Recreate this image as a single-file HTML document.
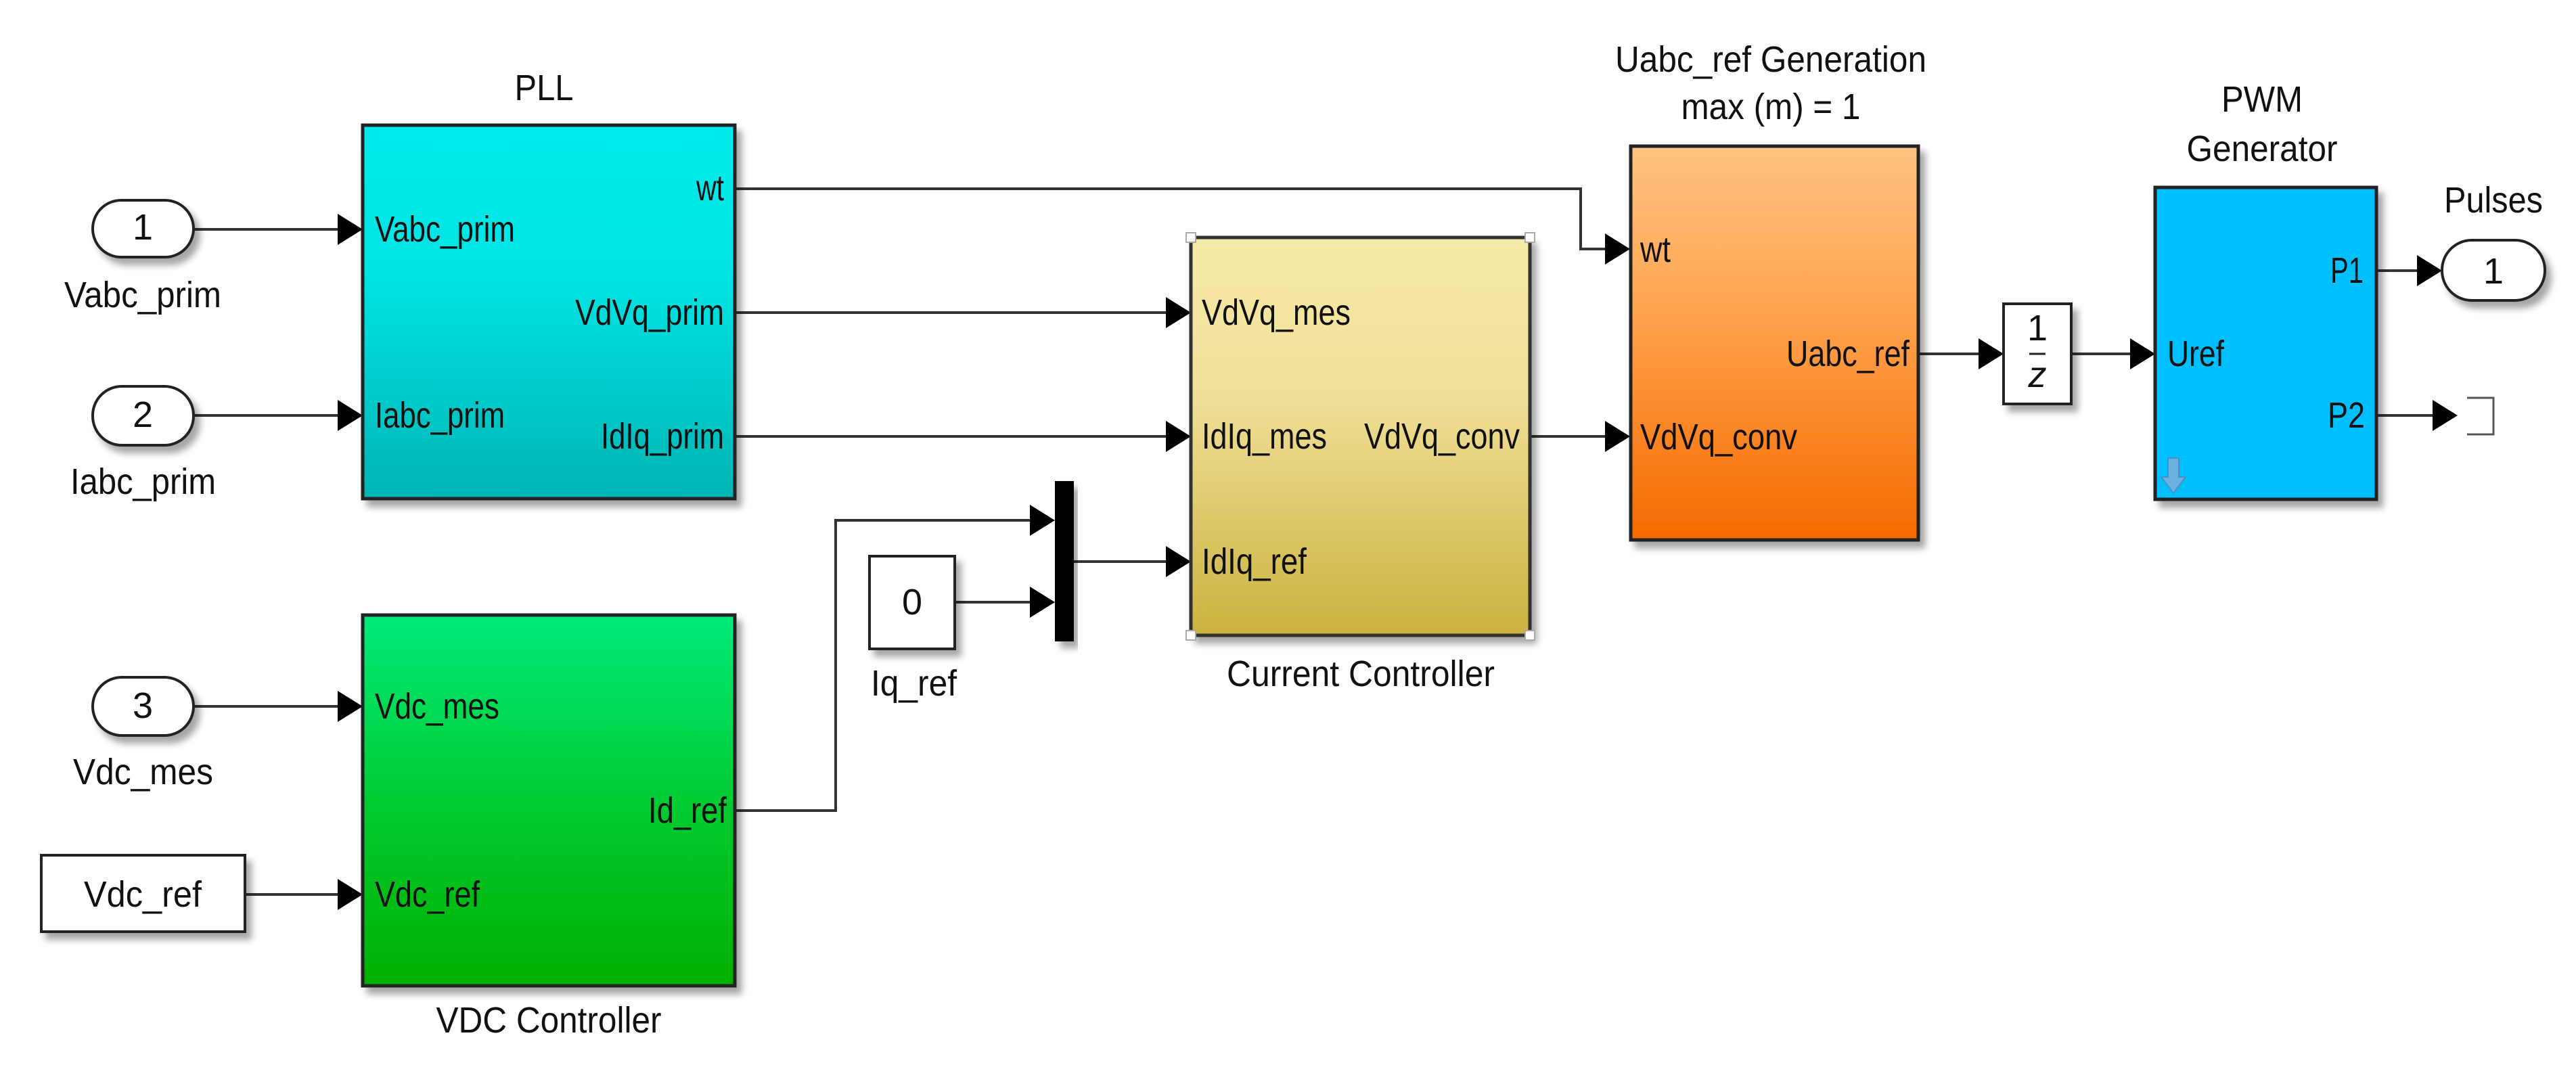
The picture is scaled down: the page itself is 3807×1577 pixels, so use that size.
<!DOCTYPE html>
<html><head><meta charset="utf-8"><style>
html,body{margin:0;padding:0;background:#fff;}
svg{display:block;}
text{font-family:"Liberation Sans",Arial,sans-serif;font-size:54px;fill:#111;}
</style></head><body>
<svg width="3807" height="1577" viewBox="0 0 3807 1577" xmlns="http://www.w3.org/2000/svg">
<defs>
<linearGradient id="gPLL" x1="0" y1="0" x2="0" y2="1"><stop offset="0" stop-color="#00ecec"/><stop offset="0.4" stop-color="#00e4e4"/><stop offset="1" stop-color="#00b4b4"/></linearGradient>
<linearGradient id="gVDC" x1="0" y1="0" x2="0" y2="1"><stop offset="0" stop-color="#00ea7a"/><stop offset="0.5" stop-color="#00cc33"/><stop offset="1" stop-color="#00b000"/></linearGradient>
<linearGradient id="gCC" x1="0" y1="0" x2="0" y2="1"><stop offset="0" stop-color="#f6e9a8"/><stop offset="0.4" stop-color="#f0df98"/><stop offset="1" stop-color="#cbb23e"/></linearGradient>
<linearGradient id="gU" x1="0" y1="0" x2="0" y2="1"><stop offset="0" stop-color="#ffc282"/><stop offset="0.4" stop-color="#ffa550"/><stop offset="1" stop-color="#f56a00"/></linearGradient>
<filter id="sh" x="-10%" y="-10%" width="130%" height="130%"><feDropShadow dx="8" dy="10" stdDeviation="5" flood-color="#000" flood-opacity="0.35"/></filter>
</defs>

<!-- connectors -->
<g stroke="#333" stroke-width="4" fill="none">
<line x1="286" y1="339" x2="505" y2="339"/>
<line x1="286" y1="614" x2="505" y2="614"/>
<line x1="286" y1="1044" x2="505" y2="1044"/>
<line x1="362" y1="1322" x2="505" y2="1322"/>
<polyline points="1086,279 2336,279 2336,368 2378,368"/>
<line x1="1086" y1="462" x2="1729" y2="462"/>
<line x1="1086" y1="645" x2="1729" y2="645"/>
<polyline points="1086,1198 1235,1198 1235,769 1528,769"/>
<line x1="1411" y1="890" x2="1528" y2="890"/>
<line x1="1587" y1="830" x2="1729" y2="830"/>
<line x1="2261" y1="645" x2="2378" y2="645"/>
<line x1="2835" y1="523" x2="2930" y2="523"/>
<line x1="3061" y1="523" x2="3154" y2="523"/>
<line x1="3512" y1="400" x2="3578" y2="400"/>
<line x1="3512" y1="614" x2="3601" y2="614"/>
</g>
<!-- arrowheads -->
<g fill="#000">
<polygon points="536,339 499,316 499,362"/>
<polygon points="536,614 499,591 499,637"/>
<polygon points="536,1044 499,1021 499,1067"/>
<polygon points="536,1322 499,1299 499,1345"/>
<polygon points="1760,462 1723,439 1723,485"/>
<polygon points="1760,645 1723,622 1723,668"/>
<polygon points="1760,830 1723,807 1723,853"/>
<polygon points="1559,769 1522,746 1522,792"/>
<polygon points="1559,890 1522,867 1522,913"/>
<polygon points="2409,368 2372,345 2372,391"/>
<polygon points="2409,645 2372,622 2372,668"/>
<polygon points="2961,523 2924,500 2924,546"/>
<polygon points="3185,523 3148,500 3148,546"/>
<polygon points="3609,400 3572,377 3572,423"/>
<polygon points="3632,614 3595,591 3595,637"/>
</g>

<!-- blocks -->
<rect x="536" y="185" width="550" height="552" fill="url(#gPLL)" stroke="#222" stroke-width="5" filter="url(#sh)"/>
<rect x="536" y="909" width="550" height="548" fill="url(#gVDC)" stroke="#222" stroke-width="5" filter="url(#sh)"/>
<rect x="1760" y="351" width="501" height="588" fill="url(#gCC)" stroke="#333" stroke-width="5" filter="url(#sh)"/>
<g fill="#fff" stroke="#aaa" stroke-width="2">
<rect x="1753" y="344" width="14" height="14"/><rect x="2254" y="344" width="14" height="14"/>
<rect x="1753" y="932" width="14" height="14"/><rect x="2254" y="932" width="14" height="14"/>
</g>
<rect x="2410" y="216" width="425" height="582" fill="url(#gU)" stroke="#222" stroke-width="5" filter="url(#sh)"/>
<rect x="3185" y="277" width="327" height="461" fill="#00bfff" stroke="#222" stroke-width="5" filter="url(#sh)"/>
<rect x="1559" y="711" width="28" height="237" fill="#000" filter="url(#sh)"/>
<rect x="1285" y="822" width="126" height="137" fill="#fff" stroke="#222" stroke-width="4" filter="url(#sh)"/>
<rect x="61" y="1264" width="301" height="113" fill="#fff" stroke="#222" stroke-width="4" filter="url(#sh)"/>
<rect x="2961" y="449" width="100" height="148" fill="#fff" stroke="#222" stroke-width="4" filter="url(#sh)"/>
<!-- ports -->
<g fill="#fff" stroke="#222" stroke-width="4" filter="url(#sh)">
<rect x="137" y="296" width="149" height="84" rx="42"/>
<rect x="137" y="571" width="149" height="87" rx="43"/>
<rect x="137" y="1001" width="149" height="86" rx="43"/>
<rect x="3609" y="355" width="152" height="89" rx="44"/>
</g>
<polyline points="3646,588 3685,588 3685,642 3646,642" fill="none" stroke="#555" stroke-width="3"/>
<line x1="3646" y1="614" x2="3685" y2="614" stroke="#fff" stroke-width="0"/>
<!-- down arrow icon -->
<path d="M3204,677 h16 v28 h10 l-18,24 l-18,-24 h10 z" fill="#6ab0e0" stroke="#4a90c0" stroke-width="2"/>

<!-- texts -->
<g>
<text x="804" y="148" text-anchor="middle" textLength="87" lengthAdjust="spacingAndGlyphs">PLL</text>
<text x="211" y="354" text-anchor="middle" font-size="56">1</text>
<text x="211" y="631" text-anchor="middle" font-size="56">2</text>
<text x="211" y="1061" text-anchor="middle" font-size="56">3</text>
<text x="95" y="454" textLength="232" lengthAdjust="spacingAndGlyphs">Vabc_prim</text>
<text x="104" y="730" textLength="215" lengthAdjust="spacingAndGlyphs">Iabc_prim</text>
<text x="108" y="1159" textLength="207" lengthAdjust="spacingAndGlyphs">Vdc_mes</text>
<text x="554" y="357" textLength="207" lengthAdjust="spacingAndGlyphs">Vabc_prim</text>
<text x="554" y="632" textLength="192" lengthAdjust="spacingAndGlyphs">Iabc_prim</text>
<text x="1029" y="296" textLength="41" lengthAdjust="spacingAndGlyphs">wt</text>
<text x="850" y="480" textLength="220" lengthAdjust="spacingAndGlyphs">VdVq_prim</text>
<text x="888" y="663" textLength="182" lengthAdjust="spacingAndGlyphs">IdIq_prim</text>
<text x="554" y="1062" textLength="184" lengthAdjust="spacingAndGlyphs">Vdc_mes</text>
<text x="554" y="1340" textLength="155" lengthAdjust="spacingAndGlyphs">Vdc_ref</text>
<text x="958" y="1216" textLength="116" lengthAdjust="spacingAndGlyphs">Id_ref</text>
<text x="124" y="1340" textLength="174" lengthAdjust="spacingAndGlyphs">Vdc_ref</text>
<text x="811" y="1526" text-anchor="middle" textLength="333" lengthAdjust="spacingAndGlyphs">VDC Controller</text>
<text x="1348" y="908" text-anchor="middle">0</text>
<text x="1287" y="1028" textLength="127" lengthAdjust="spacingAndGlyphs">Iq_ref</text>
<text x="1776" y="480" textLength="220" lengthAdjust="spacingAndGlyphs">VdVq_mes</text>
<text x="1776" y="663" textLength="185" lengthAdjust="spacingAndGlyphs">IdIq_mes</text>
<text x="2016" y="663" textLength="230" lengthAdjust="spacingAndGlyphs">VdVq_conv</text>
<text x="1776" y="848" textLength="155" lengthAdjust="spacingAndGlyphs">IdIq_ref</text>
<text x="2011" y="1014" text-anchor="middle" textLength="396" lengthAdjust="spacingAndGlyphs">Current Controller</text>
<text x="2617" y="106" text-anchor="middle" textLength="460" lengthAdjust="spacingAndGlyphs">Uabc_ref Generation</text>
<text x="2617" y="176" text-anchor="middle" textLength="265" lengthAdjust="spacingAndGlyphs">max (m) = 1</text>
<text x="2424" y="387" textLength="45" lengthAdjust="spacingAndGlyphs">wt</text>
<text x="2424" y="664" textLength="232" lengthAdjust="spacingAndGlyphs">VdVq_conv</text>
<text x="2640" y="541" textLength="182" lengthAdjust="spacingAndGlyphs">Uabc_ref</text>
<text x="3011" y="503" text-anchor="middle" font-family="Liberation Serif" font-size="44">1</text>
<line x1="2999" y1="523" x2="3023" y2="523" stroke="#222" stroke-width="3"/>
<text x="3011" y="572" text-anchor="middle" font-family="Liberation Serif" font-style="italic" font-size="44">z</text>
<text x="3343" y="165" text-anchor="middle" textLength="120" lengthAdjust="spacingAndGlyphs">PWM</text>
<text x="3343" y="238" text-anchor="middle" textLength="223" lengthAdjust="spacingAndGlyphs">Generator</text>
<text x="3203" y="541" textLength="84" lengthAdjust="spacingAndGlyphs">Uref</text>
<text x="3444" y="418" textLength="49" lengthAdjust="spacingAndGlyphs">P1</text>
<text x="3440" y="632" textLength="55" lengthAdjust="spacingAndGlyphs">P2</text>
<text x="3685" y="314" text-anchor="middle" textLength="146" lengthAdjust="spacingAndGlyphs">Pulses</text>
<text x="3685" y="419" text-anchor="middle" font-size="56">1</text>
</g>
</svg>
</body></html>
